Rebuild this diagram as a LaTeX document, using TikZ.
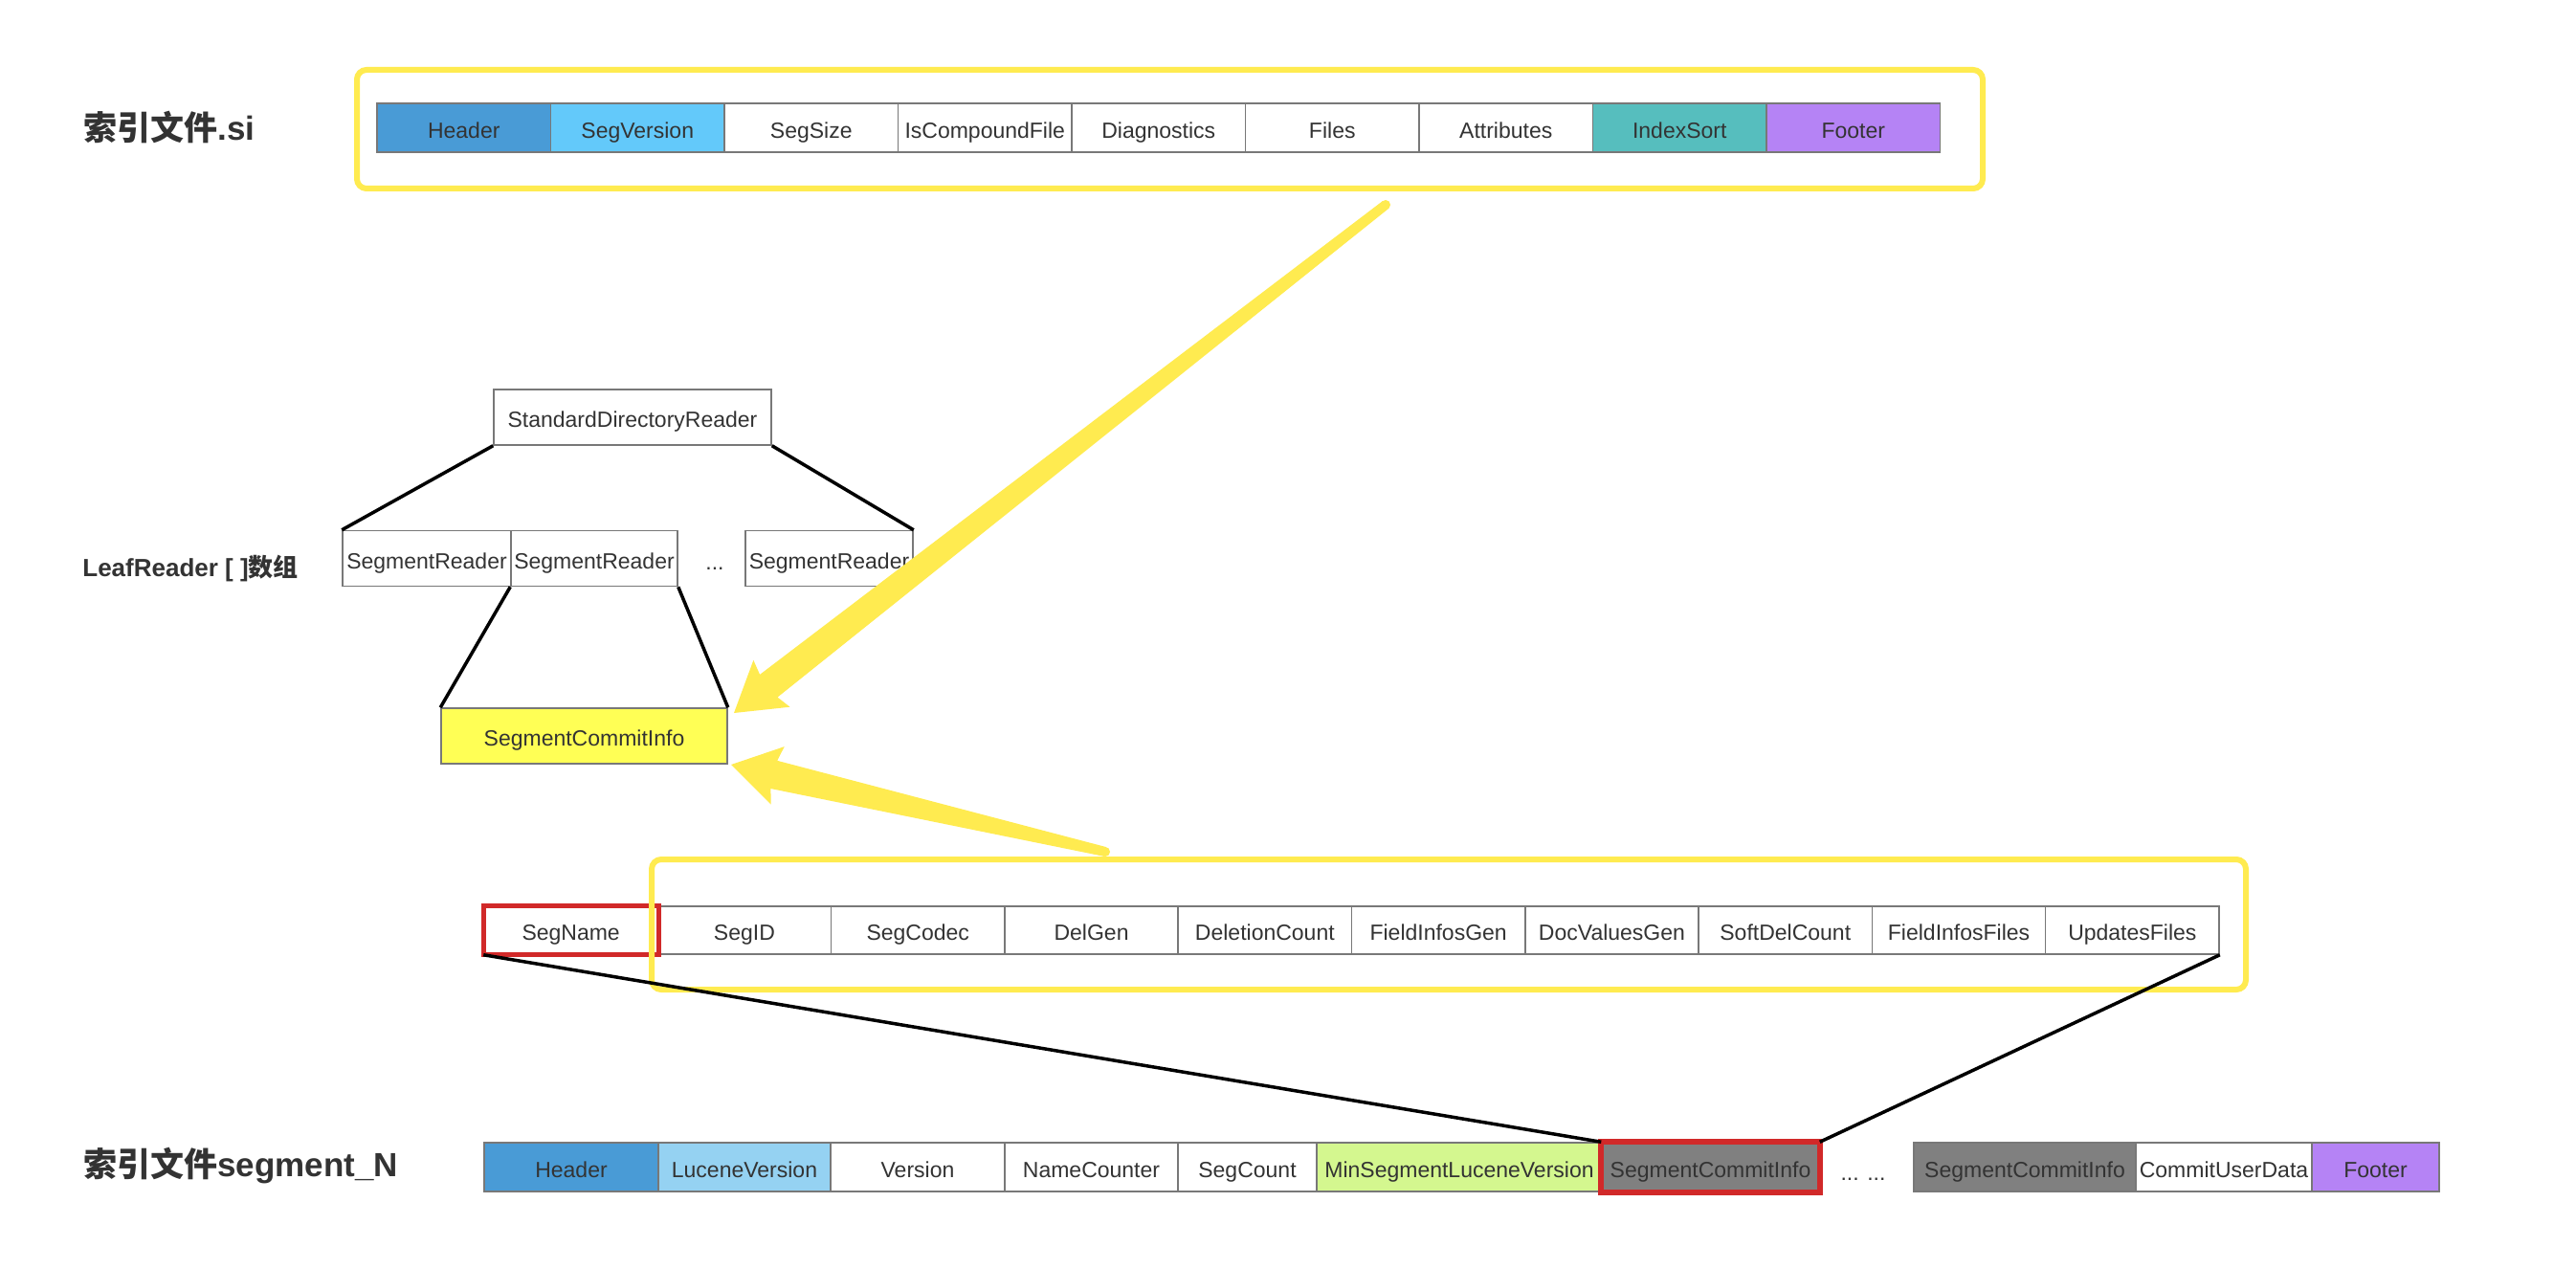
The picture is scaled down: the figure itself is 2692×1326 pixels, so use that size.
\documentclass[tikz,border=0pt]{standalone}
\usepackage{fontspec}
\setmainfont{Liberation Sans}
\newfontfamily\cjk{Noto Sans CJK SC}
\usetikzlibrary{calc}
\definecolor{txt}{RGB}{51,51,51}
\definecolor{cellgray}{RGB}{120,120,120}
\definecolor{hdrblue}{RGB}{73,155,214}
\definecolor{segver}{RGB}{99,201,250}
\definecolor{idxsort}{RGB}{86,190,190}
\definecolor{footpurple}{RGB}{181,131,245}
\definecolor{lucver}{RGB}{149,210,242}
\definecolor{minseg}{RGB}{212,247,143}
\definecolor{scigray}{RGB}{128,128,128}
\definecolor{hlred}{RGB}{209,41,41}
\definecolor{hlyellow}{RGB}{255,235,80}
\definecolor{scifill}{RGB}{255,255,85}
\newcommand\yarrow[2]{%
  \coordinate (yaw) at ($(#2)!25pt!(#1)$);
  \coordinate (yaj) at ($(#2)!23pt!(#1)$);
  \fill[hlyellow] ($(#1)!2.5pt!90:(#2)$) -- ($(yaj)!7.5pt!90:(#2)$) -- ($(yaw)!15.5pt!90:(#2)$) -- (#2)
    -- ($(yaw)!15.5pt!-90:(#2)$) -- ($(yaj)!7.5pt!-90:(#2)$) -- ($(#1)!2.5pt!-90:(#2)$) -- cycle;
  \fill[hlyellow] (#1) circle (2.5pt);
}
\begin{document}
\begin{tikzpicture}[x=0.5pt,y=-0.5pt,
  cell/.style={draw=cellgray, line width=0.75pt, minimum height=25.5pt, minimum width=90.75pt,
    inner sep=0pt, text height=10.8pt, text depth=0pt,
    font=\fontsize{11.5pt}{13pt}\selectfont, text=txt},
  mcell/.style={cell, minimum height=25pt, minimum width=90.65pt},
  tree/.style={cell, minimum height=29pt},
  plain/.style={inner sep=0pt, text height=10.8pt, text depth=0pt, font=\fontsize{11.5pt}{13pt}\selectfont, text=txt},
  title/.style={inner sep=0pt, anchor=west, text=txt, font=\bfseries\fontsize{17.5pt}{20pt}\selectfont},
  subtitle/.style={inner sep=0pt, anchor=west, text=txt, font=\bfseries\fontsize{13pt}{15pt}\selectfont},
  hlbox/.style={draw=hlyellow, line width=3pt, rounded corners=5pt},
  link/.style={draw=black, line width=1.75pt},
  redframe/.style={draw=hlred, line width=2.5pt}]
\useasboundingbox (0,0) rectangle (2692,1326);
\fill[white] (0,0) rectangle (2692,1326);

% titles
\node[title] (ttl1) at (87,133) {{\cjk\bfseries 索引文件}.si};
\node[subtitle] (ttl2) at (86,594) {LeafReader [ ]{\cjk\bfseries 数组}};
\node[title] (ttl3) at (87,1218) {{\cjk\bfseries 索引文件}segment\_N};

% top row (.si)
\node[cell, fill=hdrblue] (t1) at (484.75,133.5) {Header};
\node[cell, fill=segver] (t2) at (666.25,133.5) {SegVersion};
\node[cell] (t3) at (847.75,133.5) {SegSize};
\node[cell] (t4) at (1029.25,133.5) {IsCompoundFile};
\node[cell] (t5) at (1210.75,133.5) {Diagnostics};
\node[cell] (t6) at (1392.25,133.5) {Files};
\node[cell] (t7) at (1573.75,133.5) {Attributes};
\node[cell, fill=idxsort] (t8) at (1755.25,133.5) {IndexSort};
\node[cell, fill=footpurple] (t9) at (1936.75,133.5) {Footer};

% reader tree
\node[tree, minimum width=145pt] (sdr) at (661,436) {StandardDirectoryReader};
\node[tree, minimum width=88pt] (sr1) at (446,583.5) {SegmentReader};
\node[tree, minimum width=87pt] (sr2) at (621,583.5) {SegmentReader};
\node[plain] (srdots) at (747,585) {...};
\node[tree, minimum width=87.5pt] (sr3) at (866.5,583.5) {SegmentReader};
\node[tree, minimum width=149.5pt, fill=scifill] (sci) at (610.5,769) {SegmentCommitInfo};

% middle row (SegmentCommitInfo fields)
\node[mcell] (m1) at (596.65,972) {SegName};
\node[mcell] (m2) at (777.95,972) {SegID};
\node[mcell] (m3) at (959.25,972) {SegCodec};
\node[mcell] (m4) at (1140.55,972) {DelGen};
\node[mcell] (m5) at (1321.85,972) {DeletionCount};
\node[mcell] (m6) at (1503.15,972) {FieldInfosGen};
\node[mcell] (m7) at (1684.45,972) {DocValuesGen};
\node[mcell] (m8) at (1865.75,972) {SoftDelCount};
\node[mcell] (m9) at (2047.05,972) {FieldInfosFiles};
\node[mcell] (m10) at (2228.35,972) {UpdatesFiles};
\draw[redframe] (m1.south west) rectangle (m1.north east);

% bottom row (segment_N)
\node[cell, minimum width=91pt, fill=hdrblue] (b1) at (597,1219.5) {Header};
\node[cell, minimum width=90pt, fill=lucver] (b2) at (778,1219.5) {LuceneVersion};
\node[cell, minimum width=91pt] (b3) at (959,1219.5) {Version};
\node[cell, minimum width=90.5pt] (b4) at (1140.5,1219.5) {NameCounter};
\node[cell, minimum width=72.5pt] (b5) at (1303.5,1219.5) {SegCount};
\node[cell, minimum width=149pt, fill=minseg] (b6) at (1525,1219.5) {MinSegmentLuceneVersion};
\node[cell, minimum width=113.5pt, fill=scigray] (b7) at (1787.5,1219.5) {SegmentCommitInfo};
\node[plain] (bdots) at (1947,1223) {... ...};
\node[cell, minimum width=116pt, fill=scigray] (b8) at (2116,1219.5) {SegmentCommitInfo};
\node[cell, minimum width=92pt] (b9) at (2324,1219.5) {CommitUserData};
\node[cell, minimum width=66.5pt, fill=footpurple] (b10) at (2482.5,1219.5) {Footer};
\draw[redframe, line width=3pt] (b7.south west) rectangle (b7.north east);

% highlight boxes
\draw[hlbox] (373,73) rectangle (2072,197);
\draw[hlbox] (681,898) rectangle (2347,1034);

% tree links
\draw[link] (sdr.south west) -- (sr1.north west);
\draw[link] (sdr.south east) -- (sr3.north east);
\draw[link] (sr2.south west) -- (sci.north west);
\draw[link] (sr2.south east) -- (sci.north east);
\draw[link] (m1.south west) -- (b7.north west);
\draw[link] (m10.south east) -- (b7.north east);

% yellow arrows
\coordinate (a1tail) at (1448,214);
\coordinate (a1tip) at (767,745);
\coordinate (a2tail) at (1155,890);
\coordinate (a2tip) at (764,799);
\yarrow{a1tail}{a1tip}
\yarrow{a2tail}{a2tip}
\end{tikzpicture}
\end{document}
